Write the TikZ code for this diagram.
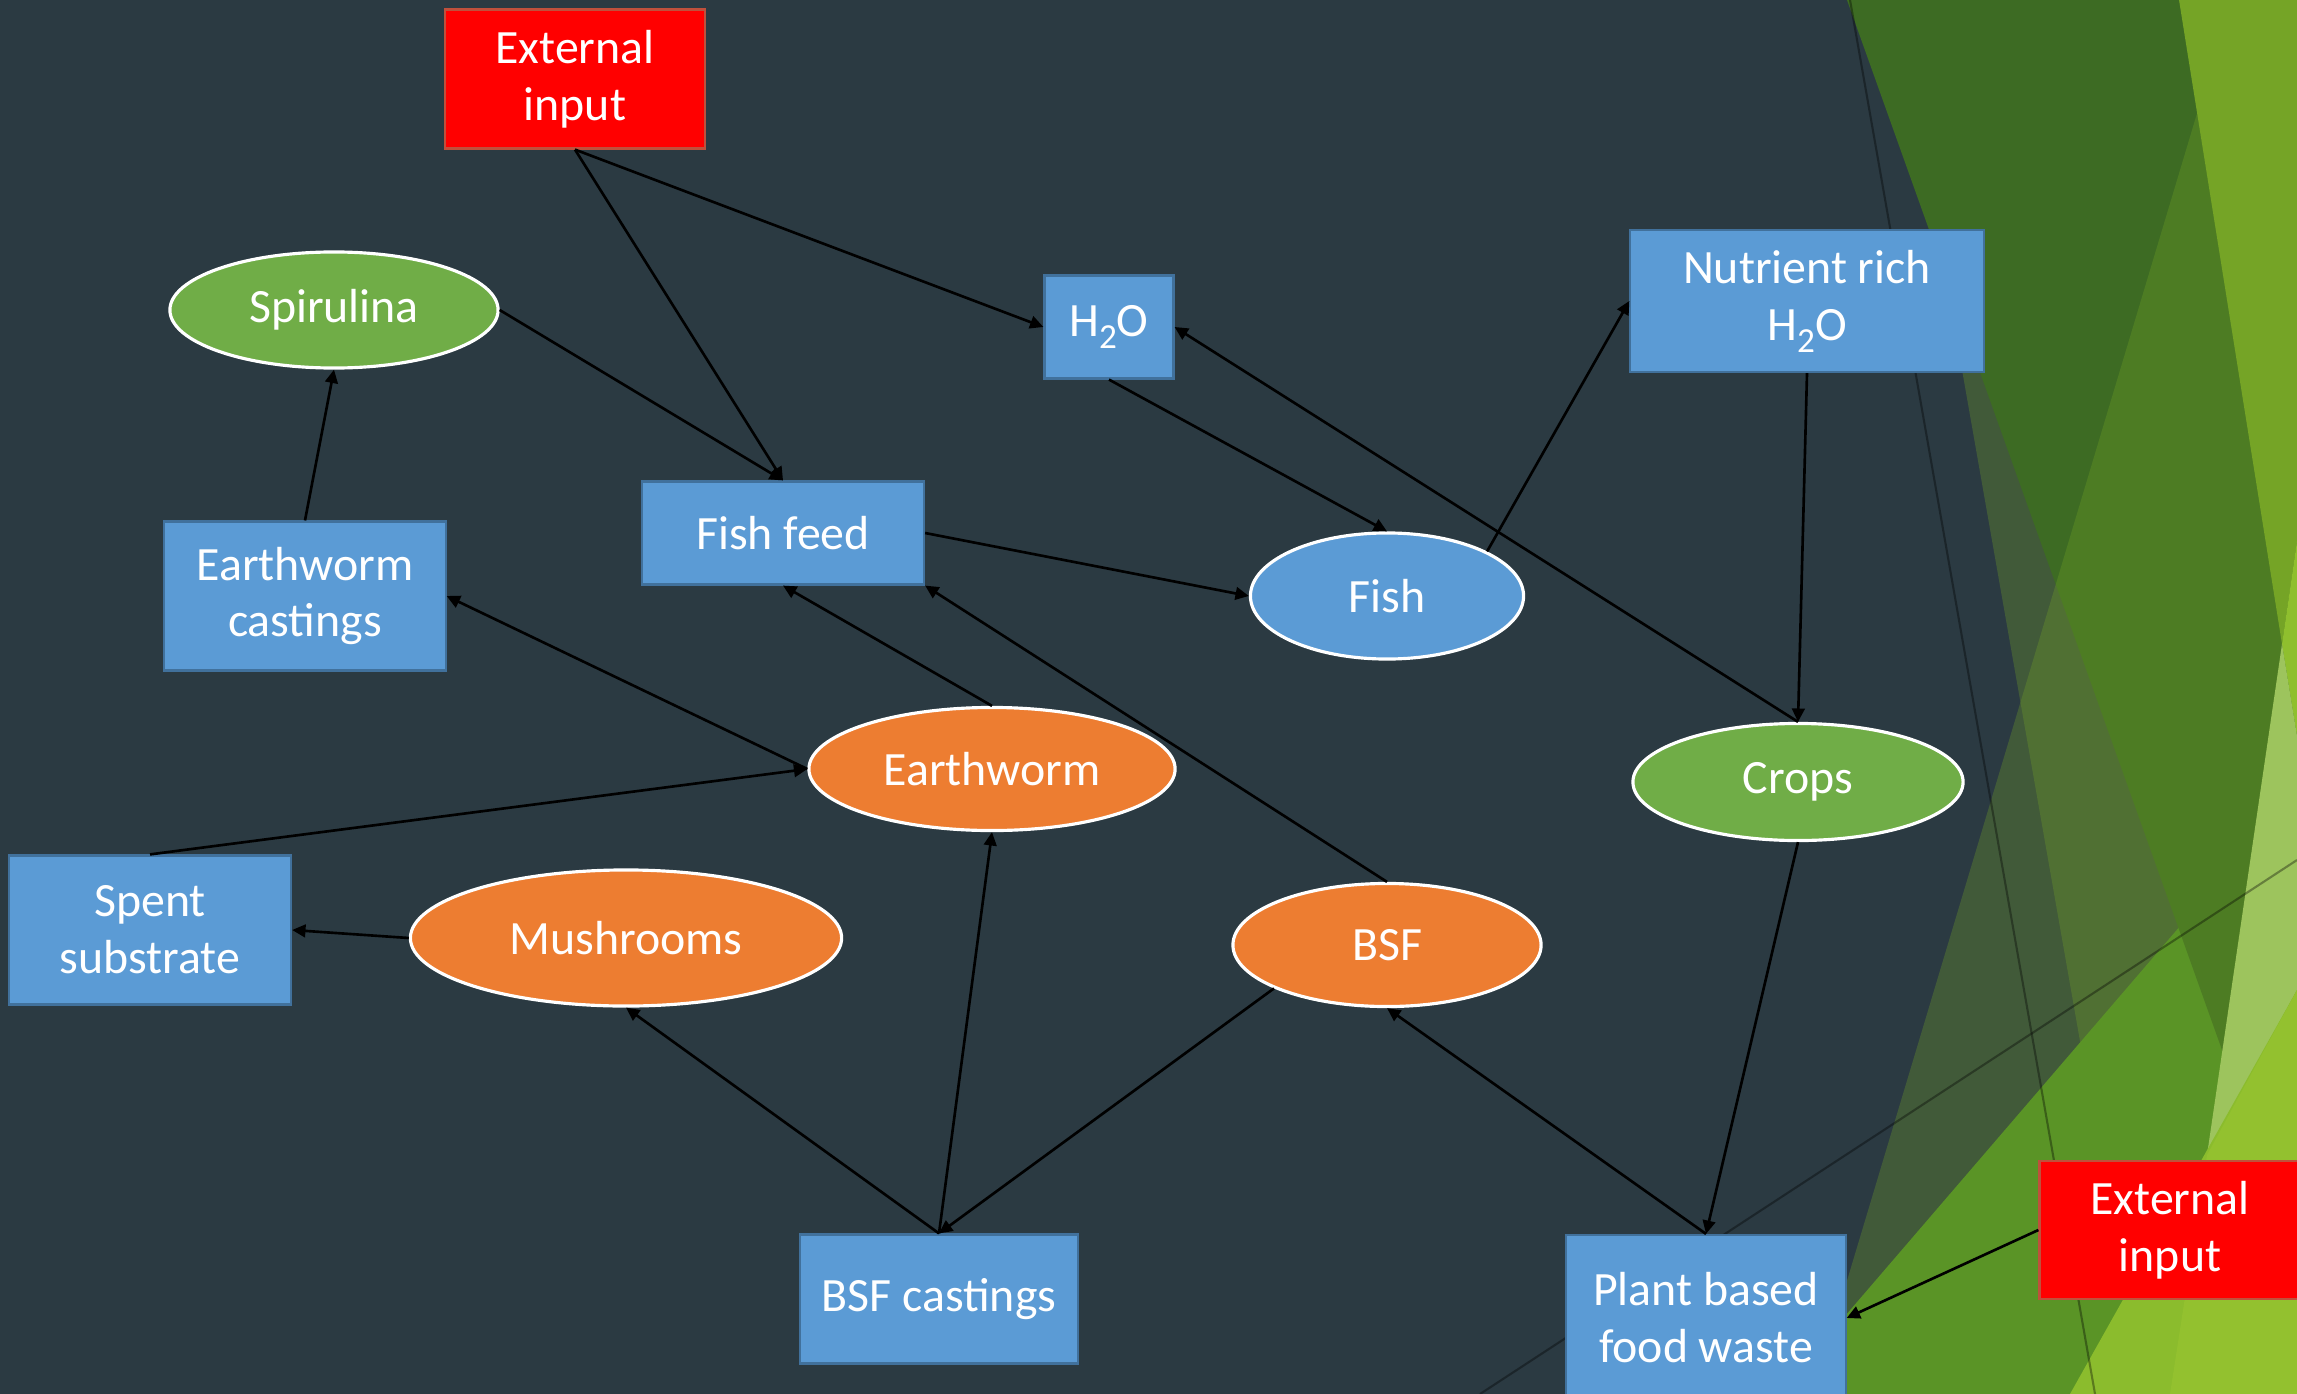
\documentclass[tikz,border=0pt]{standalone}
\usepackage{fontspec}
\setmainfont{Carlito}
\usetikzlibrary{shapes.geometric,arrows.meta}

\definecolor{slate}{HTML}{2B3A42}
\definecolor{boxblue}{HTML}{5B9BD5}
\definecolor{boxline}{HTML}{41719C}
\definecolor{wormorange}{HTML}{ED7D31}
\definecolor{leafgreen}{HTML}{70AD47}
\definecolor{inred}{HTML}{FF0000}
\definecolor{inredline}{HTML}{C0503C}
\definecolor{facetdark}{HTML}{3D6B23}
\definecolor{facetlight}{HTML}{75A426}
\definecolor{facetbright}{HTML}{4F8E27}
\definecolor{facetwedge}{HTML}{8FBF2E}
\definecolor{facetpale}{HTML}{9DC45D}
\definecolor{facetlime}{HTML}{8BBC2D}
\definecolor{facetlimeb}{HTML}{93C12F}

\newcommand{\wtr}{H\raisebox{-0.25em}{\fontsize{10}{10}\selectfont 2}O}

\tikzset{
  txt/.style={text=white, font=\fontsize{13.6}{16.2}\selectfont, align=center, inner sep=0pt},
  bluebox/.style={txt, rectangle, fill=boxblue, draw=boxline, line width=0.6pt},
  inputbox/.style={txt, rectangle, fill=inred, draw=inredline, line width=0.6pt},
  oval/.style={txt, ellipse, draw=white, line width=0.9pt},
  flow/.style={-{Triangle[length=3.8pt,width=3.6pt]}, line width=0.75pt, black},
}

\begin{document}
\begin{tikzpicture}[x=0.01cm, y=-0.01cm]
  \useasboundingbox (0,0) rectangle (2297,1394);
  \clip (0,0) rectangle (2297,1394);

  % background facets
  \fill[slate] (0,0) rectangle (2297,1394);
  \fill[facetlight, opacity=0.3] (1897,0) -- (2297,0) -- (2297,1394) -- (2142,1394) -- cycle;
  \fill[facetbright] (1778,1394) -- (2297,790) -- (2297,1394) -- cycle;
  \fill[facetdark] (1847,0) -- (2297,0) -- (2297,1260) -- cycle;
  \fill[facetlight, opacity=0.3] (2231,0) -- (2297,0) -- (2297,1394) -- (1813,1394) -- cycle;
  \fill[facetlight] (2179,0) -- (2297,0) -- (2297,541) -- (2282,644) -- cycle;
  \fill[facetwedge] (2297,541) -- (2282,644) -- (2297,736) -- cycle;
  \fill[facetpale] (2282,644) -- (2297,736) -- (2297,990) -- (2207,1155) -- cycle;
  \fill[facetlime] (2070,1394) -- (2297,990) -- (2297,1394) -- cycle;
  \fill[facetlimeb] (2207,1155) -- (2170,1394) -- (2297,1394) -- (2297,990) -- cycle;
  \draw[black, opacity=0.35, line width=0.6pt] (1850,0) -- (2095,1394);
  \draw[black, opacity=0.35, line width=0.6pt] (1480,1394) -- (2297,860);

  % nodes
  \node[inputbox, minimum width=2.60cm, minimum height=1.39cm] (inA) at (575,79) {External\\input};
  \node[oval, fill=leafgreen, minimum width=3.28cm, minimum height=1.16cm] (spirulina) at (334,310) {Spirulina};
  \node[bluebox, minimum width=1.29cm, minimum height=1.03cm] (water) at (1109,327) {\wtr};
  \node[bluebox, minimum width=3.53cm, minimum height=1.42cm] (richwater) at (1807,301) {Nutrient rich\\\wtr};
  \node[bluebox, minimum width=2.82cm, minimum height=1.03cm] (feed) at (783,533) {Fish feed};
  \node[bluebox, minimum width=2.81cm, minimum height=1.49cm] (castings) at (305,596) {Earthworm\\castings};
  \node[oval, fill=boxblue, minimum width=2.73cm, minimum height=1.26cm] (fish) at (1387,596) {Fish};
  \node[oval, fill=wormorange, minimum width=3.66cm, minimum height=1.23cm] (worm) at (992,769) {Earthworm};
  \node[oval, fill=leafgreen, minimum width=3.30cm, minimum height=1.17cm] (crops) at (1798,782) {Crops};
  \node[bluebox, minimum width=2.82cm, minimum height=1.49cm] (spent) at (150,930) {Spent\\substrate};
  \node[oval, fill=wormorange, minimum width=4.31cm, minimum height=1.36cm] (mushrooms) at (626,938) {Mushrooms};
  \node[oval, fill=wormorange, minimum width=3.08cm, minimum height=1.23cm] (bsf) at (1387,945) {BSF};
  \node[bluebox, minimum width=2.78cm, minimum height=1.29cm] (bsfcast) at (939,1299) {BSF castings};
  \node[bluebox, minimum width=2.79cm, minimum height=1.66cm] (waste) at (1706,1318) {Plant based\\food waste};
  \node[inputbox, minimum width=2.61cm, minimum height=1.38cm] (inB) at (2170,1230) {External\\input};

  % flows
  \draw[flow] (inA.south) -- (water.west);
  \draw[flow] (inA.south) -- (feed.north);
  \draw[flow] (spirulina.east) -- (feed.north);
  \draw[flow] (castings.north) -- (spirulina.south);
  \draw[flow] (water.south) -- (fish.north);
  \draw[flow] (feed.east) -- (fish.west);
  \draw[flow] (fish.24) -- (richwater.west);
  \draw[flow] (crops.north) -- (water.east);
  \draw[flow] (richwater.south) -- (crops.north);
  \draw[flow] (worm.north) -- (feed.south);
  \draw[flow] (bsf.north) -- (feed.south east);
  \draw[flow] (worm.west) -- (castings.east);
  \draw[flow] (spent.north) -- (worm.west);
  \draw[flow] (mushrooms.west) -- (spent.east);
  \draw[flow] (bsfcast.north) -- (mushrooms.south);
  \draw[flow] (bsfcast.north) -- (worm.south);
  \draw[flow] (bsf.201) -- (bsfcast.north);
  \draw[flow] (waste.north) -- (bsf.south);
  \draw[flow] (crops.south) -- (waste.north);
  \draw[flow] (inB.west) -- (waste.east);
\end{tikzpicture}
\end{document}
